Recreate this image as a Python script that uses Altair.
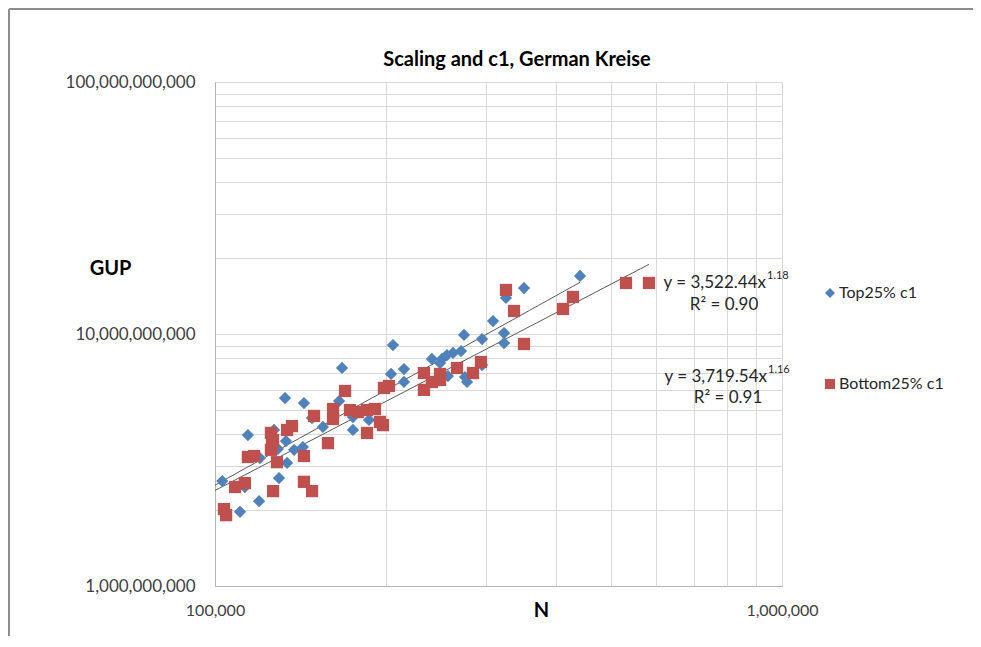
import altair as alt
import pandas as pd

# ---- data ----
series_names = ["Top25% c1", "Bottom25% c1"]

top_n = [103000, 110700, 112900, 114300, 119600, 120000, 127100, 129100, 129700, 132900,
         133400, 134000, 137900, 142900, 143500, 148300, 155000, 165500, 167500, 175100,
         175100, 186900, 204400, 206000, 215400, 215400, 241300, 251400, 256500, 262900,
         271600, 274900, 257500, 276000, 278300, 295800, 295800, 309300, 323400, 323400,
         326000, 350700, 440300, 249400]
top_gup = [2.61e9, 1.97e9, 2.47e9, 3.97e9, 2.17e9, 3.22e9, 4.16e9, 3.50e9, 2.68e9, 5.57e9,
           3.76e9, 3.08e9, 3.47e9, 3.56e9, 5.32e9, 4.64e9, 4.28e9, 5.42e9, 7.33e9, 4.16e9,
           4.68e9, 4.56e9, 6.94e9, 9.04e9, 7.26e9, 6.45e9, 7.96e9, 7.96e9, 8.25e9, 8.41e9,
           8.56e9, 9.91e9, 6.81e9, 6.75e9, 6.45e9, 9.55e9, 7.53e9, 11.26e9, 10.09e9, 9.21e9,
           13.9e9, 15.22e9, 17.0e9, 7.67e9]

bot_n = [103700, 104600, 108500, 112900, 114300, 117200, 125500, 126600, 126100, 125500,
         128600, 126600, 134000, 136700, 143500, 143500, 148300, 149500, 158200, 161500,
         161500, 169600, 173000, 178700, 185400, 191500, 185400, 195400, 197800, 198600,
         202700, 233600, 233600, 241300, 249400, 249400, 267200, 285100, 294500, 326000,
         336800, 350700, 411000, 427900, 530700, 582600]
bot_gup = [2.02e9, 1.91e9, 2.47e9, 2.56e9, 3.25e9, 3.28e9, 4.05e9, 3.80e9, 3.63e9, 3.47e9,
           3.10e9, 2.38e9, 4.16e9, 4.31e9, 3.28e9, 2.59e9, 2.38e9, 4.73e9, 3.69e9, 5.04e9,
           4.60e9, 5.94e9, 4.99e9, 4.90e9, 4.99e9, 5.04e9, 4.05e9, 4.48e9, 4.35e9, 6.11e9,
           6.22e9, 7.00e9, 6.00e9, 6.45e9, 6.94e9, 6.57e9, 7.33e9, 7.00e9, 7.74e9, 14.95e9,
           12.34e9, 9.13e9, 12.57e9, 14.03e9, 15.94e9, 15.94e9]

x_ticks = [100000, 200000, 300000, 400000, 500000, 600000, 700000, 800000, 900000, 1000000]
y_ticks = [1e9, 2e9, 3e9, 4e9, 5e9, 6e9, 7e9, 8e9, 9e9,
           1e10, 2e10, 3e10, 4e10, 5e10, 6e10, 7e10, 8e10, 9e10, 1e11]

chart_title = "Scaling and c1, German Kreise"
eq_top = ["y = 3,522.44x", "1.18", "R² = 0.90"]
eq_bot = ["y = 3,719.54x", "1.16", "R² = 0.91"]

colors = ["#4F81BD", "#C0504D"]
shapes = ["diamond", "square"]

FONT = "Lato"

df = pd.concat([
    pd.DataFrame({"N": top_n, "GUP": top_gup, "series": series_names[0]}),
    pd.DataFrame({"N": bot_n, "GUP": bot_gup, "series": series_names[1]}),
], ignore_index=True)

decade_expr = ("abs(log(datum.value)/LN10 - round(log(datum.value)/LN10)) < 0.001"
               " ? format(datum.value, ',') : ''")

x_enc = alt.X("N:Q",
              scale=alt.Scale(type="log", domain=[100000, 1000000], nice=False),
              axis=alt.Axis(values=x_ticks, labelExpr=decade_expr, ticks=False, tickSize=0,
                            grid=True, gridColor="#d9d9d9", domainColor="#b3b3b3",
                            labelFont=FONT, labelFontSize=16, labelColor="#404040",
                            labelPadding=16, labelOverlap=False, labelFlush=False,
                            title="N", titleFont=FONT, titleFontSize=20, titleFontWeight="bold",
                            titleColor="#000000", titleX=326, titleY=24,
                            titleBaseline="middle", titleAlign="center"))
y_enc = alt.Y("GUP:Q",
              scale=alt.Scale(type="log", domain=[1e9, 1e11], nice=False),
              axis=alt.Axis(values=y_ticks, labelExpr=decade_expr, ticks=False, tickSize=0,
                            grid=True, gridColor="#d9d9d9", domainColor="#b3b3b3",
                            labelFont=FONT, labelFontSize=17, labelColor="#404040",
                            labelPadding=20, labelOverlap=False, labelFlush=False,
                            title="GUP", titleFont=FONT, titleFontSize=20, titleFontWeight="bold",
                            titleColor="#000000", titleAngle=0, titleX=-105, titleY=186,
                            titleBaseline="middle", titleAlign="center"))

legend = alt.Legend(title=None, orient="none", legendX=607, legendY=203,
                    rowPadding=75, labelFont=FONT, labelFontSize=16, labelColor="#262626",
                    symbolSize=100, symbolStrokeWidth=0, labelOffset=1, padding=0)

points = alt.Chart(df).mark_point(filled=True, opacity=1, size=150,
                                  strokeWidth=0.6).encode(
    x=x_enc, y=y_enc,
    color=alt.Color("series:N", scale=alt.Scale(domain=series_names, range=colors), legend=legend),
    shape=alt.Shape("series:N", scale=alt.Scale(domain=series_names, range=shapes), legend=legend),
)

trend_top = alt.Chart(df).transform_filter(
    alt.datum.series == series_names[0]
).transform_regression("N", "GUP", method="pow", extent=[100000, max(top_n)]).mark_line(
    color="#595959", strokeWidth=1).encode(x=x_enc, y=y_enc)

trend_bot = alt.Chart(df).transform_filter(
    alt.datum.series == series_names[1]
).transform_regression("N", "GUP", method="pow", extent=[100000, max(bot_n)]).mark_line(
    color="#595959", strokeWidth=1).encode(x=x_enc, y=y_enc)

one = pd.DataFrame({"a": [0]})


def txt(s, x, y, size=17, align="left", weight="normal", color="#262626"):
    return alt.Chart(one).mark_text(font=FONT, fontSize=size, align=align, baseline="middle",
                                    fontWeight=weight, color=color).encode(
        text=alt.value(s), x=alt.value(x), y=alt.value(y))


annots = [
    txt(chart_title, 302, -22, size=20, align="center", weight="bold", color="#000000"),
    txt(eq_top[0], 551, 201, align="right"),
    txt(eq_top[1], 552, 194, size=11),
    txt(eq_top[2], 509, 223, align="center"),
    txt(eq_bot[0], 552, 295, align="right"),
    txt(eq_bot[1], 553, 288, size=11),
    txt(eq_bot[2], 513, 316, align="center"),
]

frame_top = alt.Chart(one).mark_rule(color="#8c8c8c", strokeWidth=2).encode(
    x=alt.value(-206), x2=alt.value(760), y=alt.value(-73))
frame_left = alt.Chart(one).mark_rule(color="#8c8c8c", strokeWidth=2).encode(
    x=alt.value(-206), y=alt.value(-73), y2=alt.value(560))

chart = alt.layer(frame_top, frame_left, trend_top, trend_bot, points, *annots).properties(
    width=567, height=504,
    autosize=alt.AutoSizeParams(type="none"),
    padding={"left": 207, "top": 74, "right": 191, "bottom": 50},
).configure_view(stroke=None).configure(background="white")

chart.save("out.html", embed_options={"renderer": "svg", "actions": False})
